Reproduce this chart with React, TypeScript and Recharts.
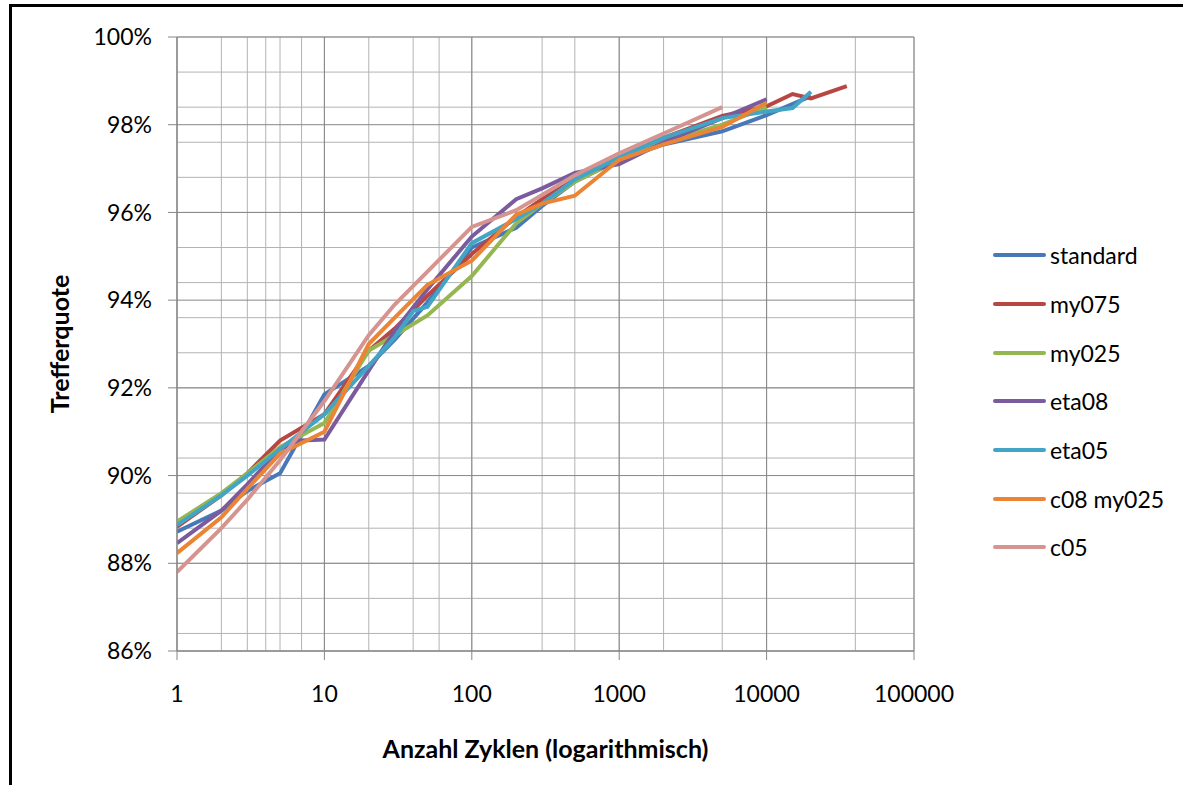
import { CartesianGrid, Legend, Line, LineChart, XAxis, YAxis } from 'recharts';

// Anzahl Zyklen (x) and Trefferquote in % (y) per Lauf
const standardX = [1, 2, 3, 5, 10, 20, 30, 50, 100, 200, 300, 500, 1000, 2000, 5000, 10000, 20000];
const standardY = [88.72, 89.2, 89.65, 90.05, 91.85, 92.5, 93.1, 93.95, 95.2, 95.65, 96.15, 96.7, 97.2, 97.55, 97.85, 98.22, 98.65];

const my075X = [1, 2, 3, 5, 10, 20, 30, 50, 100, 200, 300, 500, 1000, 2000, 5000, 10000, 15000, 20000, 35000];
const my075Y = [88.83, 89.55, 90.05, 90.8, 91.4, 92.85, 93.35, 94.1, 95.05, 95.9, 96.3, 96.75, 97.25, 97.7, 98.2, 98.42, 98.7, 98.6, 98.88];

const my025X = [1, 2, 3, 5, 10, 20, 30, 50, 100, 200, 300, 500, 1000, 2000, 5000, 10000];
const my025Y = [88.95, 89.6, 90.05, 90.65, 91.2, 92.85, 93.2, 93.65, 94.55, 95.75, 96.2, 96.7, 97.2, 97.6, 98.0, 98.4];

const eta08X = [1, 2, 3, 5, 7, 10, 20, 30, 50, 100, 200, 300, 500, 1000, 2000, 5000, 10000];
const eta08Y = [88.46, 89.2, 89.8, 90.6, 90.8, 90.82, 92.4, 93.3, 94.25, 95.45, 96.3, 96.55, 96.9, 97.1, 97.6, 98.15, 98.58];

const eta05X = [1, 2, 3, 5, 10, 20, 30, 40, 50, 100, 200, 300, 500, 1000, 2000, 5000, 10000, 15000, 20000];
const eta05Y = [88.87, 89.55, 90.0, 90.6, 91.4, 92.5, 93.15, 93.75, 93.85, 95.3, 95.85, 96.2, 96.75, 97.25, 97.7, 98.15, 98.3, 98.38, 98.75];

const c08X = [1, 2, 3, 5, 10, 20, 30, 50, 100, 200, 300, 500, 1000, 2000, 5000, 10000];
const c08Y = [88.23, 89.05, 89.7, 90.5, 91.0, 93.0, 93.6, 94.35, 94.9, 95.95, 96.2, 96.38, 97.2, 97.55, 97.95, 98.5];

const c05X = [1, 2, 3, 5, 10, 20, 30, 50, 100, 200, 300, 500, 1000, 2000, 5000];
const c05Y = [87.8, 88.8, 89.45, 90.35, 91.7, 93.2, 93.9, 94.65, 95.67, 96.05, 96.4, 96.85, 97.35, 97.8, 98.4];

const seriesNames = ['standard', 'my075', 'my025', 'eta08', 'eta05', 'c08 my025', 'c05'];
const seriesColors = ['#4878B8', '#B84744', '#94B752', '#7A5C9E', '#42A5C6', '#EB8535', '#D69491'];
const seriesXs = [standardX, my075X, my025X, eta08X, eta05X, c08X, c05X];
const seriesYs = [standardY, my075Y, my025Y, eta08Y, eta05Y, c08Y, c05Y];

const xTicks = [1, 10, 100, 1000, 10000, 100000];
const yTicks = [86, 88, 90, 92, 94, 96, 98, 100];

// minor grid: 2..9 inside every decade, 0.4 % steps on y
const xMinorTicks: number[] = [];
xTicks.slice(0, -1).forEach((d) => {
  for (let k = 1; k < 10; k++) xMinorTicks.push(d * k);
});
xMinorTicks.push(100000);
const yMinorTicks: number[] = [];
for (let i = 0; i <= 35; i++) yMinorTicks.push(Math.round((86 + i * 0.4) * 10) / 10);

const series = seriesNames.map((name, i) => ({
  name,
  color: seriesColors[i],
  data: seriesXs[i].map((x, j) => ({ x, y: seriesYs[i][j] })),
}));

const FONT = 'Lato, "Open Sans", sans-serif';
const MINOR = '#B3B3B3';
const MAJOR = '#878787';

function ChartLegend() {
  return (
    <div style={{ fontFamily: FONT, fontSize: 23, color: '#000' }}>
      {series.map((s) => (
        <div key={s.name} style={{ display: 'flex', alignItems: 'center', height: 48.7 }}>
          <span style={{ display: 'inline-block', width: 53, height: 4, background: s.color, borderRadius: 2, marginRight: 4 }} />
          <span>{s.name}</span>
        </div>
      ))}
    </div>
  );
}

export default function App() {
  return (
    <div style={{ position: 'absolute', left: 0, top: 0, width: 1183, height: 785, background: '#fff', overflow: 'hidden' }}>
      <div style={{
        position: 'absolute', left: 9, top: 4, width: 1200, height: 800,
        borderLeft: '3px solid #000', borderTop: '3px solid #000',
      }} />
      <LineChart
        width={1183}
        height={785}
        margin={{ top: 37, right: 269, bottom: 0, left: 97 }}
        style={{ position: 'absolute', left: 0, top: 0 }}
      >
        <XAxis xAxisId="minor" dataKey="x" type="number" scale="log" domain={[1, 100000]} ticks={xMinorTicks} hide allowDataOverflow />
        <YAxis yAxisId="minor" type="number" domain={[86, 100]} ticks={yMinorTicks} hide allowDataOverflow />
        <CartesianGrid xAxisId="minor" yAxisId="minor" stroke={MINOR} strokeWidth={1} />
        <CartesianGrid xAxisId="main" yAxisId="main" stroke={MAJOR} strokeWidth={1} />
        <XAxis
          xAxisId="main"
          dataKey="x"
          type="number"
          scale="log"
          domain={[1, 100000]}
          ticks={xTicks}
          interval={0}
          allowDataOverflow
          stroke={MAJOR}
          tickSize={9}
          tickMargin={26}
          tick={{ fontFamily: FONT, fontSize: 23, fill: '#000' }}
          height={134}
          label={{ value: 'Anzahl Zyklen (logarithmisch)', position: 'insideBottom', offset: 27, style: { fontFamily: FONT, fontSize: 25, fontWeight: 700, fill: '#000' } }}
        />
        <YAxis
          yAxisId="main"
          type="number"
          domain={[86, 100]}
          ticks={yTicks}
          interval={0}
          allowDataOverflow
          stroke={MAJOR}
          tickSize={9}
          tickMargin={16}
          width={80}
          tickFormatter={(v: number) => `${v}%`}
          tick={{ fontFamily: FONT, fontSize: 23, fill: '#000' }}
          label={{ value: 'Trefferquote', angle: -90, position: 'insideLeft', offset: -37, style: { fontFamily: FONT, fontSize: 25, fontWeight: 700, fill: '#000', textAnchor: 'middle' } }}
        />
        <Legend
          layout="horizontal"
          verticalAlign="middle"
          content={<ChartLegend />}
          wrapperStyle={{ position: 'absolute', left: 993, top: 231, width: 190 }}
        />
        {series.map((s) => (
          <Line
            key={s.name}
            xAxisId="main"
            yAxisId="main"
            data={s.data}
            dataKey="y"
            name={s.name}
            type="linear"
            stroke={s.color}
            strokeWidth={4}
            dot={false}
            isAnimationActive={false}
          />
        ))}
      </LineChart>
    </div>
  );
}
